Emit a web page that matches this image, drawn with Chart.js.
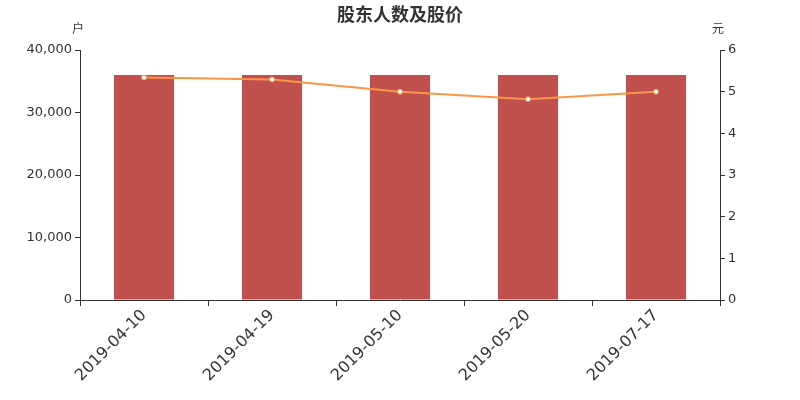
<!DOCTYPE html>
<html>
<head>
<meta charset="utf-8">
<script src="https://cdn.jsdelivr.net/npm/chart.js@4"></script>
<style>
  html, body { margin: 0; padding: 0; background: #fff; }
  #wrap { width: 800px; height: 400px; }
</style>
</head>
<body>
<div id="wrap"><canvas id="chart" width="800" height="400"></canvas></div>
<script>
const dates = ['2019-04-10', '2019-04-19', '2019-05-10', '2019-05-20', '2019-07-17'];
const holders = [36000, 36000, 36000, 36000, 36000];
const prices = [5.34, 5.29, 5.0, 4.82, 5.0];
const titleText = '股东人数及股价';
const leftUnit = '户';
const rightUnit = '元';

const FONT = "'DejaVu Sans', 'Noto Sans CJK SC', sans-serif";
const TEXT = '#333';

// title and the two unit labels above the axes
const labelsPlugin = {
  id: 'unitLabels',
  afterDraw(chart) {
    const ctx = chart.ctx;
    const left = chart.scales.y;
    const right = chart.scales.y1;
    ctx.save();
    ctx.fillStyle = TEXT;
    ctx.textAlign = 'center';
    ctx.textBaseline = 'middle';
    ctx.font = "bold 18px 'Noto Sans CJK SC', sans-serif";
    ctx.fillText(titleText, 400, 14);
    ctx.font = "12px 'Noto Sans CJK SC', sans-serif";
    ctx.fillText(leftUnit, left.right - 2, 28);
    ctx.fillText(rightUnit, right.left - 2, 28);
    ctx.restore();
  }
};

new Chart(document.getElementById('chart'), {
  data: {
    labels: dates,
    datasets: [
      {
        type: 'line',
        data: prices,
        yAxisID: 'y1',
        borderColor: '#F79646',
        borderWidth: 2,
        pointRadius: 2.5,
        pointBackgroundColor: '#fff',
        pointBorderColor: '#F79646',
        pointBorderWidth: 1,
        tension: 0,
        order: 0
      },
      {
        type: 'bar',
        data: holders,
        yAxisID: 'y',
        backgroundColor: '#C0504D',
        categoryPercentage: 1,
        barPercentage: 0.47,
        order: 1
      }
    ]
  },
  plugins: [labelsPlugin],
  options: {
    responsive: false,
    animation: false,
    layout: { padding: { top: 50, left: 0, right: 0, bottom: 0 } },
    plugins: {
      legend: { display: false },
      tooltip: { enabled: false },
      title: { display: false }
    },
    scales: {
      x: {
        offset: true,
        grid: { display: true, drawOnChartArea: false, offset: true, tickLength: 6, color: TEXT },
        border: { color: TEXT },
        ticks: { color: TEXT, font: { family: FONT, size: 16 }, maxRotation: 45, minRotation: 45, padding: 0 },
        afterFit(s) { s.height = 100; }
      },
      y: {
        position: 'left',
        min: 0,
        max: 40000,
        grid: { display: true, drawOnChartArea: false, tickLength: 5, color: TEXT },
        border: { color: TEXT },
        ticks: {
          stepSize: 10000,
          color: TEXT,
          padding: 3,
          font: { family: FONT, size: 13 },
          callback: v => v.toLocaleString('en-US')
        },
        afterFit(s) { s.width = 80; }
      },
      y1: {
        position: 'right',
        min: 0,
        max: 6,
        grid: { display: true, drawOnChartArea: false, tickLength: 5, color: TEXT },
        border: { color: TEXT },
        ticks: { stepSize: 1, color: TEXT, padding: 3, font: { family: FONT, size: 13 } },
        afterFit(s) { s.width = 80; }
      }
    }
  }
});
</script>
</body>
</html>
